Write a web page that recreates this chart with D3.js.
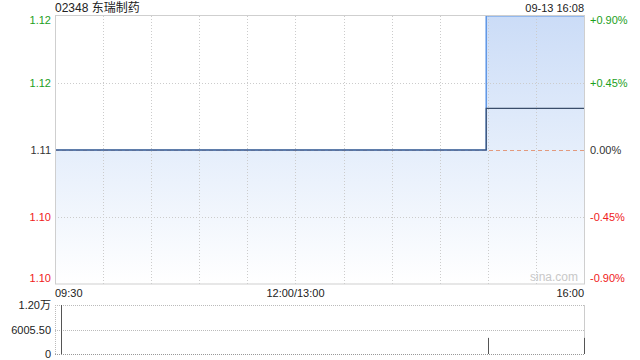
<!DOCTYPE html>
<html>
<head>
<meta charset="utf-8">
<script src="https://cdn.jsdelivr.net/npm/d3@7"></script>
<style>
  body { margin: 0; background: #fff; }
  svg text { font-family: "Liberation Sans", Arial, "Noto Sans CJK SC", sans-serif; }
</style>
</head>
<body>
<svg id="chart" width="640" height="360"></svg>
<script>
// chart data
var title = "02348 东瑞制药";
var stamp = "09-13 16:08";
var prevClose = 1.11;

var priceTimes = ["09:30", "14:59", "16:00"];
var priceValues = [1.11, 1.12, 1.12];
var avgValues = [1.11, 1.1131, 1.1131];

var volTimes = ["09:34", "15:00", "16:00"];
var volValues = [12011, 3950, 3950];

var pctTicks = [0.009, 0.0045, 0, -0.0045, -0.009];
var priceTickLabels = ["1.12", "1.12", "1.11", "1.10", "1.10"];
var pctTickLabels = ["+0.90%", "+0.45%", "0.00%", "-0.45%", "-0.90%"];
var volTicks = [12011, 6005.5, 0];
var volTickLabels = ["1.20万", "6005.50", "0"];
var timeTicks = ["09:30", "10:00", "10:30", "11:00", "11:30", "12:00",
                 "13:30", "14:00", "14:30", "15:00", "15:30", "16:00"];
var timeLabels = [["09:30", "start"], ["12:00/13:00", "middle", "12:00"], ["16:00", "end"]];

var plotLeft = 55, plotRight = 584, plotTop = 16, plotBottom = 284;
var volTop = 305, volBottom = 354;

var svg = d3.select('#chart');

// trading minutes since open (lunch break removed)
var tradeMin = function(t) {
  var p = t.split(':');
  var m = (+p[0]) * 60 + (+p[1]) - 570;
  if (m > 150) m -= 60;
  return m;
}

var x = d3.scaleLinear().domain([0, 330]).range([plotLeft, plotRight]);
var y = d3.scaleLinear().domain([prevClose * (1 - 0.009), prevClose * (1 + 0.009)]).range([plotBottom, plotTop]);
var yv = d3.scaleLinear().domain([0, 12011]).range([volBottom, volTop]);

var green = '#1ca01c', red = '#f02020', dark = '#333';
var tickColor = function(v) { return v > 0 ? green : (v < 0 ? red : dark); }

// gradient for area
var defs = svg.append('defs');
var grad = defs.append('linearGradient').attr('id', 'fillGrad')
  .attr('gradientUnits', 'userSpaceOnUse')
  .attr('x1', 0).attr('y1', plotTop).attr('x2', 0).attr('y2', plotBottom);
grad.append('stop').attr('offset', 0).attr('stop-color', '#cbdcf7');
grad.append('stop').attr('offset', 0.5).attr('stop-color', '#e5eefb');
grad.append('stop').attr('offset', 1).attr('stop-color', '#ffffff');

// price area
var pts = priceTimes.map(function(t, i) { return {m: tradeMin(t), p: priceValues[i], a: avgValues[i]}; });

var area = d3.area().curve(d3.curveStepAfter)
  .x(function(d) { return x(d.m); })
  .y0(plotBottom)
  .y1(function(d) { return y(d.p); });

svg.append('path').datum(pts).attr('d', area).attr('fill', 'url(#fillGrad)');

// grid
svg.selectAll('.vgrid').data(timeTicks.slice(1, -1)).enter().append('line')
  .attr('x1', function(d) { return Math.round(x(tradeMin(d))) + 0.5; })
  .attr('x2', function(d) { return Math.round(x(tradeMin(d))) + 0.5; })
  .attr('y1', plotTop).attr('y2', plotBottom)
  .attr('stroke', '#ccc').attr('stroke-dasharray', '1,2');

svg.selectAll('.hgrid').data([0.0045, -0.0045]).enter().append('line')
  .attr('x1', plotLeft).attr('x2', plotRight)
  .attr('y1', function(d) { return Math.round(y(prevClose * (1 + d))) + 0.5; })
  .attr('y2', function(d) { return Math.round(y(prevClose * (1 + d))) + 0.5; })
  .attr('stroke', '#ccc').attr('stroke-dasharray', '1,2');

// prev close dashed line
svg.append('line')
  .attr('x1', plotLeft).attr('x2', plotRight)
  .attr('y1', Math.round(y(prevClose)) + 0.5).attr('y2', Math.round(y(prevClose)) + 0.5)
  .attr('stroke', '#e29a7e').attr('stroke-dasharray', '4,3');

var priceLine = d3.line().curve(d3.curveStepAfter)
  .x(function(d) { return x(d.m); })
  .y(function(d) { return y(d.p); });
var avgLine = d3.line().curve(d3.curveStepAfter)
  .x(function(d) { return x(d.m); })
  .y(function(d) { return y(d.a); });

svg.append('path').datum(pts).attr('d', priceLine)
  .attr('fill', 'none').attr('stroke', '#5d95e6').attr('stroke-width', 1.5);
svg.append('path').datum(pts).attr('d', avgLine)
  .attr('fill', 'none').attr('stroke', '#3a4d6a').attr('stroke-width', 1.2);

// frame
svg.append('rect').attr('x', plotLeft + 0.5).attr('y', plotTop - 0.5)
  .attr('width', plotRight - plotLeft).attr('height', plotBottom - plotTop + 0.5)
  .attr('fill', 'none').attr('stroke', '#cfcfcf');

// watermark
svg.append('text').attr('x', plotRight - 6).attr('y', plotBottom - 3)
  .attr('text-anchor', 'end').attr('font-size', 12).attr('fill', '#c8c8c8')
  .text('sina.com');

// title and timestamp
svg.append('text').attr('x', plotLeft).attr('y', 12).attr('font-size', 12).attr('fill', '#222').text(title);
svg.append('text').attr('x', plotRight).attr('y', 12).attr('text-anchor', 'end')
  .attr('font-size', 11).attr('fill', '#222').text(stamp);

// y tick labels
var tickY = function(d, i) {
  var yy = y(prevClose * (1 + d));
  return i === 0 ? yy + 8 : (i === 4 ? yy - 2 : yy + 4);
}
svg.selectAll('.ltick').data(pctTicks).enter().append('text')
  .attr('x', plotLeft - 4)
  .attr('y', tickY)
  .attr('text-anchor', 'end').attr('font-size', 11)
  .attr('fill', function(d) { return tickColor(d); })
  .text(function(d, i) { return priceTickLabels[i]; });

svg.selectAll('.rtick').data(pctTicks).enter().append('text')
  .attr('x', plotRight + 6)
  .attr('y', tickY)
  .attr('font-size', 11)
  .attr('fill', function(d) { return tickColor(d); })
  .text(function(d, i) { return pctTickLabels[i]; });

// x labels
svg.selectAll('.xlab').data(timeLabels).enter().append('text')
  .attr('x', function(d) { return x(tradeMin(d[2] || d[0])); })
  .attr('y', 297).attr('font-size', 11).attr('fill', '#222')
  .attr('text-anchor', function(d) { return d[1]; })
  .text(function(d) { return d[0]; });

// volume panel
svg.selectAll('.vline').data(volTicks).enter().append('line')
  .attr('x1', plotLeft).attr('x2', plotRight)
  .attr('y1', function(d) { return Math.round(yv(d)) + 0.5; })
  .attr('y2', function(d) { return Math.round(yv(d)) + 0.5; })
  .attr('stroke', function(d) { return d === 0 ? '#999' : '#bbb'; })
  .attr('stroke-dasharray', '1,1');
svg.append('line').attr('x1', plotLeft + 0.5).attr('x2', plotLeft + 0.5)
  .attr('y1', volTop).attr('y2', volBottom)
  .attr('stroke', '#bbb').attr('stroke-dasharray', '1,1');
svg.append('line').attr('x1', plotRight + 0.5).attr('x2', plotRight + 0.5)
  .attr('y1', volTop).attr('y2', volBottom)
  .attr('stroke', '#ccc');

svg.selectAll('.vbar').data(volValues).enter().append('line')
  .attr('x1', function(d, i) { return Math.round(x(tradeMin(volTimes[i]))) + 0.5; })
  .attr('x2', function(d, i) { return Math.round(x(tradeMin(volTimes[i]))) + 0.5; })
  .attr('y1', function(d) { return yv(d); })
  .attr('y2', volBottom)
  .attr('stroke', '#555').attr('stroke-width', 1);

svg.selectAll('.vtick').data(volTicks).enter().append('text')
  .attr('x', plotLeft - 4)
  .attr('y', function(d) { return yv(d) + 4; })
  .attr('text-anchor', 'end').attr('font-size', 11).attr('fill', '#222')
  .text(function(d, i) { return volTickLabels[i]; });
</script>
</body>
</html>
